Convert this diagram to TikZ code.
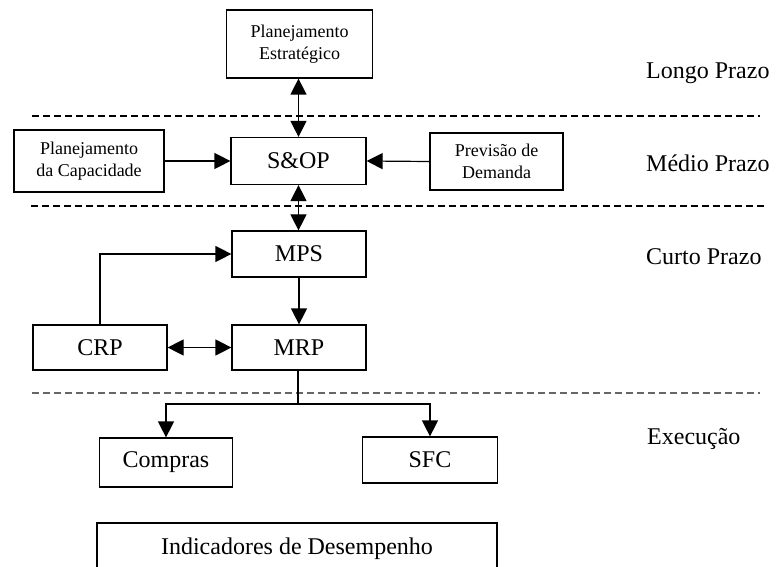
\documentclass[tikz,border=0pt]{standalone}
\usepackage{fontspec}
\setmainfont{Liberation Serif}
\usetikzlibrary{arrows.meta}
\tikzset{
  box/.style={draw=black, line width=1.2pt, inner sep=0pt, align=center, font=\fontsize{24}{28}\selectfont},
  smallbox/.style={box, font=\fontsize{18}{21.5}\selectfont},
  level/.style={anchor=west, inner sep=0pt, font=\fontsize{24}{28}\selectfont},
  conn/.style={line width=1.2pt, -{Triangle[length=16pt,width=16pt]}},
  dconn/.style={line width=1.2pt, {Triangle[length=16pt,width=16pt]}-{Triangle[length=16pt,width=16pt]}},
  divider/.style={line width=1.3pt, dash pattern=on 7pt off 4pt}
}
\begin{document}
\begin{tikzpicture}[x=1pt,y=-1pt]
\useasboundingbox (0,0) rectangle (777,567);
\clip (0,0) rectangle (777,567);
% dividers
\draw[divider] (32,116) -- (760,116);
\draw[divider] (31,206) -- (767,206);
\draw[divider, draw=black!60] (32,393) -- (760,393);
% level labels
\node[level] (lp) at (646,73) {Longo Prazo};
\node[level] (mp) at (646,163) {Médio Prazo};
\node[level] (cp) at (646,257) {Curto Prazo};
\node[level] (ex) at (647,439) {Execução};
% boxes
\node[smallbox, minimum width=146pt, minimum height=68pt] (pe) at (299.5,44) {Planejamento\\Estratégico};
\node[box, minimum width=135pt, minimum height=47pt] (sop) at (298.5,161) {S\&OP};
\node[smallbox, minimum width=150pt, minimum height=62pt] (pc) at (89,161) {Planejamento\\da Capacidade};
\node[smallbox, minimum width=133pt, minimum height=57pt] (pd) at (496.5,161.5) {Previsão de\\Demanda};
\node[box, minimum width=134pt, minimum height=46pt] (mps) at (299,254) {MPS};
\node[box, minimum width=134pt, minimum height=45pt] (mrp) at (299,347.5) {MRP};
\node[box, minimum width=134pt, minimum height=45pt] (crp) at (100,347.5) {CRP};
\node[box, minimum width=133pt, minimum height=49pt] (compras) at (166,462.5) {Compras};
\node[box, minimum width=135pt, minimum height=46pt] (sfc) at (430,460) {SFC};
\node[box, minimum width=400pt, minimum height=52pt] (ind) at (297,549) {Indicadores de Desempenho};
% connectors
\draw[dconn] (sop.north |- pe.south) -- (sop.north);
\draw[dconn] (sop.south) -- (sop.south |- mps.north);
\draw[conn] (pc.east) -- (sop.west);
\draw[conn] (pd.west) -- (sop.east);
\draw[conn] (crp.north) |- (mps.west);
\draw[conn] (mps.south) -- (mrp.north);
\draw[dconn] (crp.east) -- (mrp.west);
\coordinate (split) at (298,404);
\draw[line width=1.2pt] (mrp.south -| split) -- (split);
\draw[conn] (split) -| (compras.north);
\draw[conn] (split) -| (sfc.north);
\end{tikzpicture}
\end{document}
